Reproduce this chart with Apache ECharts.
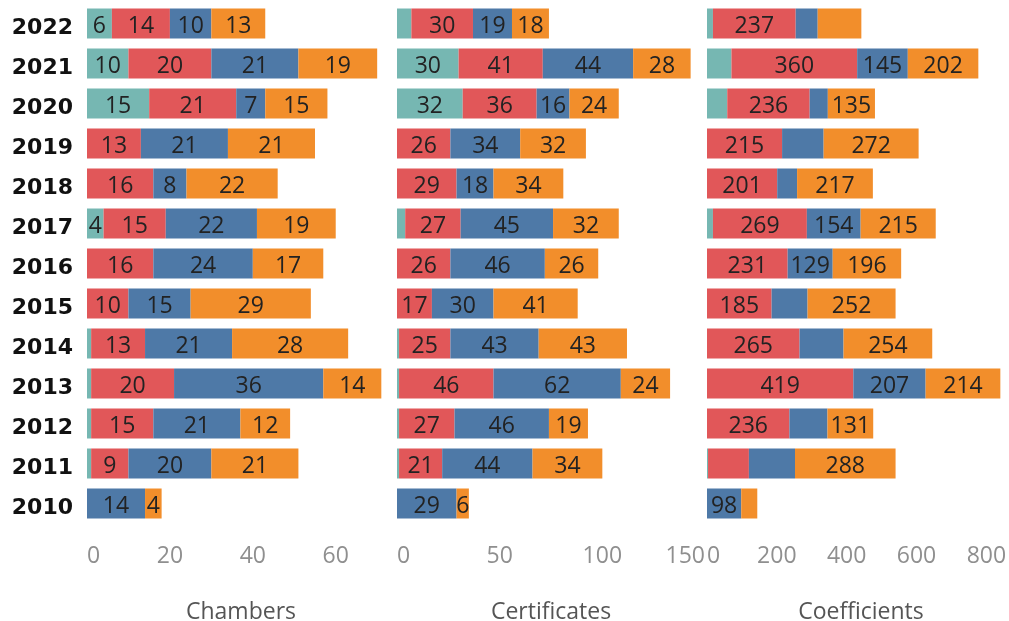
<!DOCTYPE html>
<html>
<head>
<meta charset="utf-8">
<script src="https://cdn.jsdelivr.net/npm/echarts@6/dist/echarts.min.js"></script>
<style>html,body{margin:0;padding:0;background:#fff}#c{width:1009px;height:621px}</style>
</head>
<body>
<div id="c"></div>
<script>
// ---------- data ----------
const years = ['2022','2021','2020','2019','2018','2017','2016','2015','2014','2013','2012','2011','2010'];
const seriesNames = ['Teal','Red','Blue','Orange'];

const chambersTeal   = [6,10,15,0,0,4,0,0,1,1,1,1,0];
const chambersRed    = [14,20,21,13,16,15,16,10,13,20,15,9,0];
const chambersBlue   = [10,21,7,21,8,22,24,15,21,36,21,20,14];
const chambersOrange = [13,19,15,21,22,19,17,29,28,14,12,21,4];

const certTeal   = [7,30,32,0,0,4,0,0,1,1,1,1,0];
const certRed    = [30,41,36,26,29,27,26,17,25,46,27,21,0];
const certBlue   = [19,44,16,34,18,45,46,30,43,62,46,44,29];
const certOrange = [18,28,24,32,34,32,26,41,43,24,19,34,6];

const coefTeal   = [17,70,58,0,0,17,0,0,0,0,0,3,0];
const coefRed    = [237,360,236,215,201,269,231,185,265,419,236,117,0];
const coefBlue   = [63,145,52,119,57,154,129,103,126,207,109,132,98];
const coefOrange = [125,202,135,272,217,215,196,252,254,214,131,288,46];

// labels Tableau did not draw (segment too narrow / overlapping)
const chambersHidden = ['Teal|2014','Teal|2013','Teal|2012','Teal|2011'];
const certHidden = ['Teal|2022','Teal|2017','Teal|2014','Teal|2013','Teal|2012','Teal|2011'];
const coefHidden = ['Teal|2022','Teal|2021','Teal|2020','Teal|2017','Teal|2011','Red|2011',
  'Blue|2022','Blue|2020','Blue|2019','Blue|2018','Blue|2015','Blue|2014','Blue|2012','Blue|2011',
  'Orange|2022','Orange|2010'];

const panelTitles = ['Chambers','Certificates','Coefficients'];
const panelMax = [74.3, 150, 882];
const panelInterval = [20, 50, 200];

// ---------- chart ----------
const colors = {Teal:'#76B7B2', Red:'#E15759', Blue:'#4E79A7', Orange:'#F28E2B'};
const panels = [
  {data:[chambersTeal,chambersRed,chambersBlue,chambersOrange], hidden:chambersHidden},
  {data:[certTeal,certRed,certBlue,certOrange], hidden:certHidden},
  {data:[coefTeal,coefRed,coefBlue,coefOrange], hidden:coefHidden}
];
const lefts = [87, 397, 707];
const paneW = 308;
const font = 'Open Sans';

const grid = [], xAxis = [], yAxis = [], series = [];
panels.forEach((p, gi) => {
  grid.push({left: lefts[gi], width: paneW, top: 3.5, height: 520, containLabel: false, outerBoundsMode: 'none'});
  const iv = panelInterval[gi];
  xAxis.push({
    type: 'value', gridIndex: gi, min: 0, max: panelMax[gi], interval: iv,
    axisLine: {show: false}, axisTick: {show: false}, splitLine: {show: false},
    axisLabel: {
      color: '#8f8f8f', fontSize: 23, fontFamily: font, margin: 21,
      alignMinLabel: 'left', alignMaxLabel: 'right',
      formatter: v => (Math.abs(v / iv - Math.round(v / iv)) < 1e-6 ? String(v) : '')
    },
    name: panelTitles[gi], nameLocation: 'middle', nameGap: 77,
    nameTextStyle: {color: '#555', fontSize: 23, fontFamily: font}
  });
  yAxis.push({
    type: 'category', gridIndex: gi, data: years, inverse: true,
    axisLine: {show: false}, axisTick: {show: false}, splitLine: {show: false},
    axisLabel: gi === 0 ? {show: true, margin: 14,
      formatter: v => '{y|' + v + '}',
      rich: {y: {color: '#111', fontWeight: 'bold', fontSize: 22, fontFamily: 'DejaVu Sans', padding: [9, 0, 0, 0]}}
    } : {show: false}
  });
  p.data.forEach((arr, si) => {
    const name = seriesNames[si];
    series.push({
      type: 'bar', name: name, xAxisIndex: gi, yAxisIndex: gi, stack: 'p' + gi,
      data: arr, barWidth: 30, itemStyle: {color: colors[name]},
      label: {
        show: true, position: 'inside', color: '#222', fontSize: 23, fontFamily: font, offset: [0, 3],
        formatter: prm => (prm.value === 0 || p.hidden.indexOf(name + '|' + prm.name) >= 0) ? '' : String(prm.value)
      },
      emphasis: {disabled: true}
    });
  });
});

const chart = echarts.init(document.getElementById('c'));
chart.setOption({animation: false, grid, xAxis, yAxis, series});
</script>
</body>
</html>
